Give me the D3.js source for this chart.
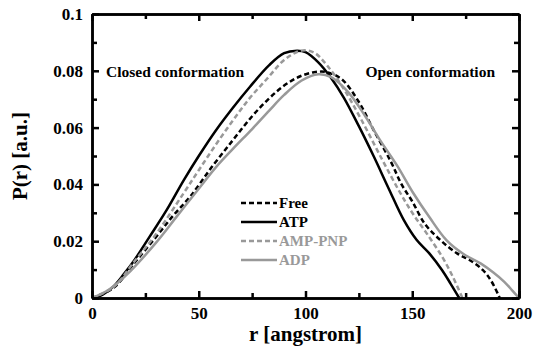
<!DOCTYPE html>
<html>
<head>
<meta charset="utf-8">
<script src="https://cdn.jsdelivr.net/npm/d3@7"></script>
<style>
  body { margin: 0; background: #fff; }
  svg text { font-family: "Liberation Serif", "DejaVu Serif", serif !important; font-weight: bold; }
</style>
</head>
<body>
<svg width="536" height="352"></svg>
<script>
// values: [r, P(r)]
const freeData = [[0,0],[10,0.0035],[20,0.0125],[30,0.0215],[38,0.029],[46,0.0357],[56,0.046],[66,0.0556],[75,0.064],[83,0.0703],[90,0.0748],[97,0.0779],[104,0.0795],[110,0.0795],[117,0.077],[125,0.069],[132,0.059],[140,0.048],[145,0.040],[150,0.034],[156,0.026],[163,0.0205],[171,0.0157],[177,0.0133],[183,0.0099],[187,0.006],[191,0]];
const atpData = [[0,0],[5,0.0012],[10,0.004],[15,0.0085],[20,0.0135],[27,0.0216],[35,0.031],[43,0.0415],[50,0.050],[58,0.059],[66,0.067],[74,0.0744],[83,0.082],[90,0.0862],[96,0.0871],[100,0.0866],[106,0.083],[112,0.0775],[118,0.0705],[125,0.0605],[132,0.0498],[139,0.0385],[146,0.0275],[152,0.0205],[158,0.0157],[164,0.0098],[168,0.005],[172,0]];
const ampData = [[0,0],[10,0.0038],[20,0.013],[30,0.0225],[43,0.037],[50,0.045],[58,0.054],[66,0.0625],[74,0.0705],[82,0.0772],[90,0.0838],[98,0.0871],[104,0.0864],[110,0.082],[118,0.0735],[126,0.063],[136,0.0486],[144,0.0375],[150,0.030],[157,0.0225],[164,0.0145],[169,0.0075],[173.5,0]];
const adpData = [[0,0],[8,0.003],[18,0.0095],[30,0.0195],[40,0.029],[50,0.0385],[58,0.046],[66,0.0525],[75,0.0595],[83,0.066],[90,0.0715],[98,0.0765],[106,0.0788],[112,0.0778],[120,0.0725],[128,0.064],[135,0.0555],[143,0.0465],[150,0.0375],[158,0.0285],[166,0.0204],[174,0.0155],[182,0.0122],[188,0.009],[193,0.0058],[197,0.0025],[200,0]];

const seriesNames = ["Free", "ATP", "AMP-PNP", "ADP"];
const seriesData = [freeData, atpData, ampData, adpData];
const seriesColor = ["#000", "#000", "#999", "#999"];
const seriesDash = ["5,3", null, "5,3", null];

const xTicks = [0, 50, 100, 150, 200];
const yTicks = [0, 0.02, 0.04, 0.06, 0.08, 0.1];

const svg = d3.select("svg");
const mLeft = 92, mRight = 519, mTop = 14, mBottom = 298;

const x = d3.scaleLinear().domain([0, 200]).range([mLeft, mRight]);
const y = d3.scaleLinear().domain([0, 0.1]).range([mBottom, mTop]);

// curves
const line = d3.line()
  .x(d => x(d[0]))
  .y(d => y(d[1]))
  .curve(d3.curveCatmullRom.alpha(0.5));

seriesData.forEach((data, i) => {
  svg.append("path")
    .datum(data)
    .attr("fill", "none")
    .attr("stroke", seriesColor[i])
    .attr("stroke-width", 2.5)
    .attr("stroke-dasharray", seriesDash[i])
    .attr("d", line);
});

// axes with inward ticks
const minorX = [25, 75, 125, 175];
const minorY = [0.01, 0.03, 0.05, 0.07, 0.09];

svg.append("g").attr("transform", `translate(0,${mBottom})`)
  .call(d3.axisBottom(x).tickValues(xTicks).tickSizeInner(-7).tickSizeOuter(0).tickPadding(9).tickFormat(d3.format("d")));
svg.append("g").attr("transform", `translate(0,${mBottom})`)
  .call(d3.axisBottom(x).tickValues(minorX).tickSizeInner(-5).tickSizeOuter(0).tickFormat(""));
svg.append("g").attr("transform", `translate(0,${mTop})`)
  .call(d3.axisTop(x).tickValues(xTicks).tickSizeInner(-7).tickSizeOuter(0).tickFormat(""));
svg.append("g").attr("transform", `translate(0,${mTop})`)
  .call(d3.axisTop(x).tickValues(minorX).tickSizeInner(-5).tickSizeOuter(0).tickFormat(""));

svg.append("g").attr("transform", `translate(${mLeft},0)`)
  .call(d3.axisLeft(y).tickValues(yTicks).tickSizeInner(-7).tickSizeOuter(0).tickPadding(9).tickFormat(d => d === 0 ? "0" : String(+d.toFixed(2))));
svg.append("g").attr("transform", `translate(${mLeft},0)`)
  .call(d3.axisLeft(y).tickValues(minorY).tickSizeInner(-5).tickSizeOuter(0).tickFormat(""));
svg.append("g").attr("transform", `translate(${mRight},0)`)
  .call(d3.axisRight(y).tickValues(yTicks).tickSizeInner(-7).tickSizeOuter(0).tickFormat(""));
svg.append("g").attr("transform", `translate(${mRight},0)`)
  .call(d3.axisRight(y).tickValues(minorY).tickSizeInner(-5).tickSizeOuter(0).tickFormat(""));

svg.selectAll(".domain").attr("stroke", "#000").attr("stroke-width", 2.5);
svg.selectAll(".tick line").attr("stroke", "#000").attr("stroke-width", 2.5);
svg.selectAll(".tick text")
  .attr("fill", "#000")
  .style("font-size", "17px");

// axis titles
svg.append("text")
  .attr("x", x(100)).attr("y", 341)
  .attr("text-anchor", "middle")
  .style("font-size", "21px")
  .text("r [angstrom]");
svg.append("text")
  .attr("transform", `translate(27,${(mTop + mBottom) / 2}) rotate(-90)`)
  .attr("text-anchor", "middle")
  .style("font-size", "21px")
  .text("P(r) [a.u.]");

// annotations
svg.append("text").attr("x", 106).attr("y", 77).style("font-size", "15.5px").text("Closed conformation");
svg.append("text").attr("x", 495).attr("y", 77).attr("text-anchor", "end").style("font-size", "15.5px").text("Open conformation");

// legend
const legend = svg.append("g");
seriesNames.forEach((name, i) => {
  const ly = 203 + i * 19;
  legend.append("line")
    .attr("x1", 241).attr("x2", 277).attr("y1", ly).attr("y2", ly)
    .attr("stroke", seriesColor[i]).attr("stroke-width", 2.5)
    .attr("stroke-dasharray", seriesDash[i]);
  legend.append("text")
    .attr("x", 279).attr("y", ly + 5)
    .attr("fill", seriesColor[i])
    .style("font-size", "15px")
    .text(name);
});
</script>
</body>
</html>
